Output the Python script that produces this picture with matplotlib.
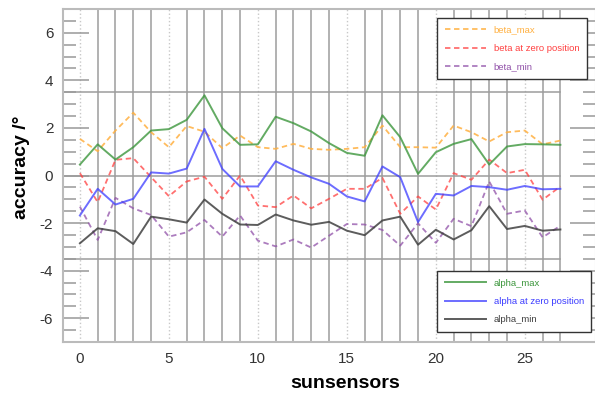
import matplotlib
matplotlib.use("Agg")
import matplotlib.pyplot as plt
from matplotlib.ticker import MultipleLocator

plt.rcParams["font.family"] = ["Liberation Sans", "DejaVu Sans"]
plt.rcParams["axes.unicode_minus"] = False

sensors = list(range(28))
alpha_max = [0.46, 1.31, 0.67, 1.19, 1.89, 1.95, 2.34, 3.37, 1.99, 1.29, 1.31, 2.47, 2.2, 1.85,
             1.36, 0.95, 0.83, 2.53, 1.61, 0.07, 0.98, 1.33, 1.53, 0.46, 1.22, 1.32, 1.31, 1.29]
alpha_zero = [-1.68, -0.56, -1.22, -0.98, 0.13, 0.08, 0.29, 1.96, 0.28, -0.46, -0.46, 0.6, 0.24, -0.08,
              -0.35, -0.88, -1.09, 0.38, -0.07, -1.96, -0.77, -0.84, -0.44, -0.49, -0.6, -0.44, -0.58, -0.56]
alpha_min = [-2.85, -2.22, -2.34, -2.88, -1.73, -1.84, -1.98, -1.01, -1.61, -2.06, -2.08, -1.64, -1.89, -2.07,
             -1.95, -2.32, -2.51, -1.89, -1.73, -2.91, -2.28, -2.69, -2.3, -1.29, -2.25, -2.12, -2.32, -2.27]
beta_max = [1.54, 1.02, 1.89, 2.64, 1.82, 1.19, 2.08, 1.84, 1.15, 1.68, 1.19, 1.12, 1.33, 1.12,
            1.08, 1.12, 1.19, 2.1, 1.19, 1.19, 1.17, 2.1, 1.82, 1.43, 1.82, 1.89, 1.31, 1.47]
beta_zero = [0.1, -1.12, 0.66, 0.73, -0.07, -0.87, -0.25, -0.05, -0.98, 0.0, -1.26, -1.33, -0.84, -1.38,
             -0.98, -0.56, -0.56, -0.1, -1.61, -0.88, -1.43, 0.1, -0.18, 0.67, 0.1, 0.24, -1.02, -0.46]
beta_min = [-1.31, -2.71, -0.94, -1.38, -1.66, -2.57, -2.39, -1.87, -2.57, -1.68, -2.74, -2.98, -2.69, -3.03,
            -2.53, -2.04, -2.06, -2.29, -2.95, -2.01, -2.83, -1.82, -2.13, -0.25, -1.61, -1.47, -2.6, -2.11]

W, H = 595, 394
AX_L, AX_T, AX_W, AX_H = 63, 9, 533, 333
fig = plt.figure(figsize=(W / 100, H / 100), dpi=100)
ax = fig.add_axes([AX_L / W, 1 - (AX_T + AX_H) / H, AX_W / W, AX_H / H])
ax.set_xlim(-0.95, 29)
ax.set_ylim(-7, 7)

# sensor grid lines and reference levels
grid_col = "#9c9c9c"
for s in sensors[1:]:
    if s % 5:
        ax.axvline(s, color=grid_col, lw=1.1, zorder=1)
for s in range(0, 28, 5):
    ax.axvline(s, color="#c8c8c8", lw=1.0, ls=":", zorder=1)
for lvl in (3.5, 0, -3.5):
    ax.plot([-0.95, 27], [lvl, lvl], color=grid_col, lw=1.1, zorder=1)

dash = (0, (3, 2))
lb1, = ax.plot(sensors, beta_max, color="#ffb040", lw=1.3, ls=dash, alpha=0.85, label="beta_max")
lb2, = ax.plot(sensors, beta_zero, color="#ff4040", lw=1.3, ls=dash, alpha=0.75, label="beta at zero position")
lb3, = ax.plot(sensors, beta_min, color="#9050a8", lw=1.3, ls=dash, alpha=0.75, label="beta_min")
la1, = ax.plot(sensors, alpha_max, color="#3c963c", lw=1.4, alpha=0.8, label="alpha_max")
la2, = ax.plot(sensors, alpha_zero, color="#3c3cff", lw=1.4, alpha=0.75, label="alpha at zero position")
la3, = ax.plot(sensors, alpha_min, color="#404040", lw=1.4, alpha=0.85, label="alpha_min")

ax.xaxis.set_major_locator(MultipleLocator(5))
ax.yaxis.set_major_locator(MultipleLocator(2))
ax.yaxis.set_minor_locator(MultipleLocator(0.5))
ax.tick_params(axis="x", length=0, pad=7, labelsize=11, labelcolor="#333333")
ax.tick_params(axis="y", which="major", direction="in", length=19, width=1.1, color="#999999",
               right=True, pad=7, labelsize=11, labelcolor="#333333")
ax.tick_params(axis="y", which="minor", direction="in", length=9.5, width=1.1, color="#999999", right=True)
for sp in ax.spines.values():
    sp.set_color("#bbbbbb")
    sp.set_linewidth(1.5)


def px_anchor(x, y):
    return ((x - AX_L) / AX_W, 1 - (y - AX_T) / AX_H)


leg_kw = dict(loc="upper left", bbox_transform=ax.transAxes, fontsize=6.8, frameon=True,
              fancybox=False, framealpha=1, handlelength=4.4, handletextpad=0.8,
              borderpad=0.8, labelspacing=1.0, borderaxespad=0)

leg1 = ax.legend(handles=[lb1, lb2, lb3], bbox_to_anchor=px_anchor(437, 18), **leg_kw)
leg1.get_frame().set_edgecolor("#333333")
for txt, ln in zip(leg1.get_texts(), [lb1, lb2, lb3]):
    txt.set_color(ln.get_color())
ax.add_artist(leg1)

leg2 = ax.legend(handles=[la1, la2, la3], bbox_to_anchor=px_anchor(437, 271), **leg_kw)
leg2.get_frame().set_edgecolor("#333333")
for txt, ln in zip(leg2.get_texts(), [la1, la2, la3]):
    txt.set_color(ln.get_color())

fig.text(345 / W, 1 - 383 / H, "sunsensors", ha="center", va="center", fontsize=14, fontweight="bold")
fig.text(22 / W, 1 - 167 / H, "accuracy /°", ha="center", va="center", rotation=90,
         fontsize=14, fontweight="bold")

fig.savefig("out.png", dpi=100)
